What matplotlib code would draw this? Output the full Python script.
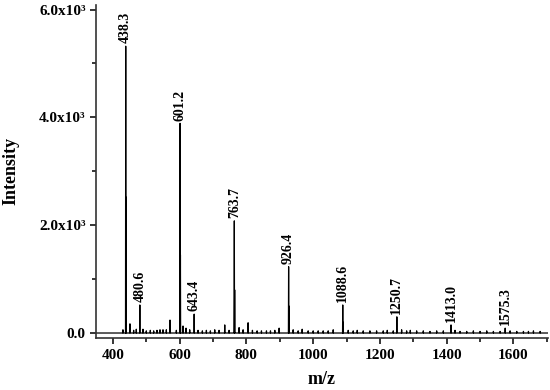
import numpy as np
import matplotlib.pyplot as plt
from matplotlib.ticker import MultipleLocator, FixedLocator, FixedFormatter

# labelled peaks (m/z, intensity)
main_mz = [438.3, 480.6, 601.2, 643.4, 763.7, 926.4, 1088.6, 1250.7, 1413.0, 1575.3]
main_int = [5320, 520, 3890, 350, 2080, 1230, 520, 300, 150, 90]

# unlabelled peaks
minor_mz = [439.3, 430, 451, 462, 470, 490, 500, 512, 522, 532, 541, 550, 560, 571,
            590, 602.2, 610, 619, 630, 655, 668, 680, 692, 705, 718, 735, 748,
            764.7, 778, 790, 805, 818, 832, 845, 860, 872, 885, 898, 927.4, 940,
            955, 967, 985, 1000, 1015, 1030, 1045, 1060, 1089.6, 1105, 1120, 1132,
            1150, 1170, 1190, 1210, 1222, 1240, 1265, 1280, 1291, 1310, 1330, 1350,
            1370, 1390, 1425, 1440, 1460, 1480, 1500, 1520, 1540, 1560, 1590, 1610,
            1630, 1645, 1660, 1680]
minor_int = [2520, 60, 170, 50, 70, 70, 40, 50, 40, 50, 60, 60, 60, 240,
             50, 1450, 130, 90, 60, 50, 40, 50, 40, 60, 50, 150, 50,
             800, 100, 60, 190, 50, 40, 40, 40, 40, 50, 90, 500, 60,
             40, 70, 40, 40, 40, 40, 40, 60, 200, 50, 40, 50,
             40, 40, 40, 40, 50, 40, 60, 40, 50, 40, 40, 30,
             40, 40, 50, 30, 30, 40, 30, 40, 30, 30, 40, 30,
             30, 30, 40, 30]

peaks = sorted(zip(main_mz + minor_mz, main_int + minor_int))
trace_x = [350]
trace_y = [0]
for m, h in peaks:
    trace_x += [m - 0.6, m, m + 0.6]
    trace_y += [0, h, 0]
trace_x.append(1703)
trace_y.append(0)

plt.rcParams['font.family'] = ['Liberation Serif', 'DejaVu Serif']
plt.rcParams['font.weight'] = 'bold'

fig = plt.figure(figsize=(5.5, 3.9), dpi=100)
ax = fig.add_axes([0.175, 0.133, 0.821, 0.855])
ax.plot(trace_x, trace_y, color='black', lw=0.9)

for m, h in zip(main_mz, main_int):
    ax.annotate(f"{m:.1f}", (m, h), xytext=(0, 2), textcoords='offset points',
                rotation=90, ha='center', va='bottom', fontsize=10, fontweight='bold')

ax.set_xlim(350, 1703)
ax.set_ylim(-95, 6090)
ax.xaxis.set_major_locator(MultipleLocator(200))
ax.xaxis.set_minor_locator(MultipleLocator(100))
ax.yaxis.set_major_locator(FixedLocator([0, 2000, 4000, 6000]))
ax.yaxis.set_major_formatter(FixedFormatter(['0.0', '2.0x10³', '4.0x10³', '6.0x10³']))
ax.yaxis.set_minor_locator(FixedLocator([1000, 3000, 5000]))

for s in ['top', 'right']:
    ax.spines[s].set_visible(False)
for s in ['left', 'bottom']:
    ax.spines[s].set_linewidth(1.2)
    ax.spines[s].set_color('#333333')
ax.tick_params(which='major', direction='out', length=4, width=1.1, labelsize=11)
ax.tick_params(which='minor', direction='out', length=3, width=1.1)

ax.set_xlabel('m/z', fontsize=13, fontweight='bold', labelpad=7)
ax.set_ylabel('Intensity', fontsize=13, fontweight='bold', labelpad=14)

plt.savefig('out.png', dpi=100)
